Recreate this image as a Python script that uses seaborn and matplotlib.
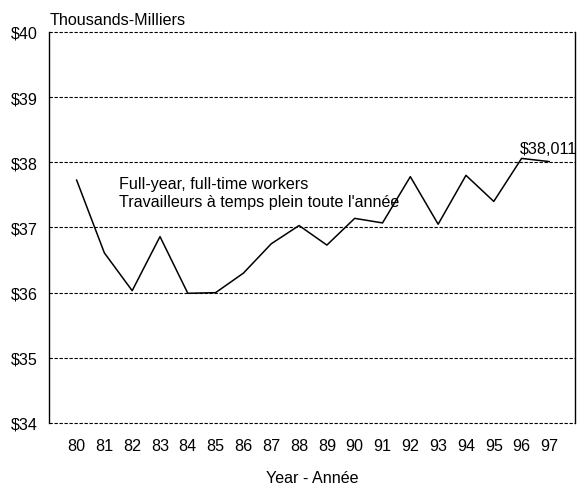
import matplotlib
matplotlib.use("Agg")
import matplotlib.pyplot as plt
import seaborn as sns
import pandas as pd

years = [80, 81, 82, 83, 84, 85, 86, 87, 88, 89, 90, 91, 92, 93, 94, 95, 96, 97]
earnings = [37.73, 36.61, 36.03, 36.86, 35.99, 36.00, 36.30, 36.75, 37.03, 36.73,
            37.14, 37.07, 37.78, 37.05, 37.80, 37.40, 38.06, 38.011]
y_ticks = [34, 35, 36, 37, 38, 39, 40]
y_tick_labels = ["$34", "$35", "$36", "$37", "$38", "$39", "$40"]

sns.set_style("white")
plt.rcParams['font.family'] = ['Liberation Sans', 'DejaVu Sans']
plt.rcParams['text.color'] = 'black'
plt.rcParams['xtick.color'] = 'black'
plt.rcParams['ytick.color'] = 'black'
plt.rcParams['axes.labelcolor'] = 'black'

FS = 11.6

df = pd.DataFrame({"year": years, "earnings": earnings})

fig = plt.figure(figsize=(5.78, 4.85), dpi=100)
ax = fig.add_axes([0.0848, 0.1258, 0.9100, 0.8062])

sns.lineplot(data=df, x="year", y="earnings", ax=ax, color="black", linewidth=1.1)

ax.set_xlim(79.01, 97.92)
ax.set_ylim(34, 40)
ax.set_xticks(years)
ax.set_xticklabels([str(y) for y in years], fontsize=FS)
ax.set_yticks(y_ticks)
ax.set_yticklabels(y_tick_labels, fontsize=FS)
ax.tick_params(axis='x', length=0, pad=11)
ax.tick_params(axis='y', length=0, pad=8)

for v in y_ticks:
    ax.axhline(v, color="black", linestyle=(0, (3, 1.5)), linewidth=0.8, zorder=0, clip_on=False)

ax.spines['top'].set_visible(False)
ax.spines['bottom'].set_visible(False)
ax.spines['left'].set_color("black")
ax.spines['right'].set_color("black")
ax.spines['left'].set_linewidth(1.0)
ax.spines['right'].set_linewidth(1.0)

ax.set_xlabel("Year - Année", fontsize=FS, labelpad=12)
ax.set_ylabel("")

ax.text(81.53, 37.54, "Full-year, full-time workers\nTravailleurs à temps plein toute l'année",
        fontsize=FS, ha="left", va="center", linespacing=1.25)
ax.text(95.94, 38.205, "$38,011", fontsize=FS, ha="left", va="center")
fig.text(50 / 578, 1 - 20.7 / 485, "Thousands-Milliers", fontsize=FS, ha="left", va="center")

fig.savefig("out.png", dpi=100)
